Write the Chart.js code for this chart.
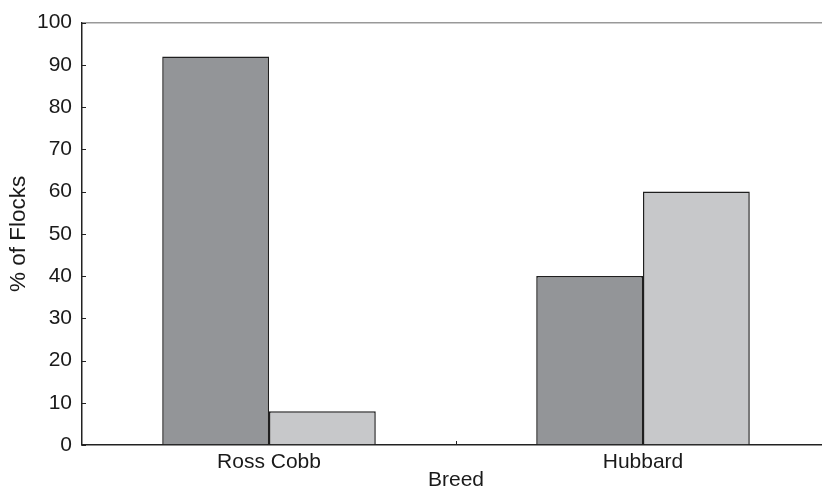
<!DOCTYPE html>
<html>
<head>
<meta charset="utf-8">
<script src="https://cdn.jsdelivr.net/npm/chart.js@4/dist/chart.umd.min.js"></script>
<style>
  html, body { margin: 0; padding: 0; background: #fff; overflow: hidden; }
  #wrap { width: 832px; height: 488px; position: relative; }
</style>
</head>
<body>
<div id="wrap"><canvas id="myChart"></canvas></div>
<script>
const breeds = ["Ross Cobb", "Hubbard"];
const seriesA = [92, 40];
const seriesB = [8, 60];
const yTicks = [0, 10, 20, 30, 40, 50, 60, 70, 80, 90, 100];

// small inward tick marks, like the original plot
const innerTicks = {
    id: 'innerTicks',
    afterDraw(chart) {
        const c = chart.ctx;
        const y = chart.scales.y;
        const x = chart.scales.x;
        const area = chart.chartArea;
        c.save();
        c.strokeStyle = '#222';
        c.lineWidth = 1;
        c.beginPath();
        yTicks.forEach(v => {
            const py = Math.round(y.getPixelForValue(v)) + 0.5;
            c.moveTo(area.left, py);
            c.lineTo(area.left + 4, py);
        });
        const mid = Math.round((x.getPixelForValue(0) + x.getPixelForValue(1)) / 2) + 0.5;
        c.moveTo(mid, area.bottom);
        c.lineTo(mid, area.bottom - 4);
        c.stroke();
        c.restore();
    }
};

const family = 'Liberation Sans, Arial, Helvetica, sans-serif';
const font = { family: family, size: 21 };
const textColor = '#1a1a1a';

new Chart(document.getElementById('myChart'), {
    type: 'bar',
    data: {
        labels: breeds,
        datasets: [
            {
                label: 'A',
                data: seriesA,
                backgroundColor: '#939598',
                borderColor: '#1f1f1f',
                borderWidth: 1.5,
                categoryPercentage: 0.571,
                barPercentage: 1
            },
            {
                label: 'B',
                data: seriesB,
                backgroundColor: '#c7c8ca',
                borderColor: '#1f1f1f',
                borderWidth: 1.5,
                categoryPercentage: 0.571,
                barPercentage: 1
            }
        ]
    },
    options: {
        responsive: true,
        maintainAspectRatio: false,
        animation: false,
        layout: { padding: { top: 19, right: 2, left: 0, bottom: 0 } },
        plugins: {
            legend: { display: false },
            tooltip: { enabled: false }
        },
        scales: {
            x: {
                grid: { display: false },
                border: { display: true, color: '#222', width: 1.5 },
                ticks: { color: textColor, font: font, padding: -3 },
                title: { display: true, text: 'Breed', color: textColor, font: font, padding: { top: 0, bottom: -5 } },
                afterFit(scale) { scale.height = 43; }
            },
            y: {
                min: 0,
                max: 100,
                afterBuildTicks(scale) { scale.ticks = yTicks.map(v => ({ value: v })); },
                grid: {
                    drawTicks: false,
                    color: ctx => ctx.tick && ctx.tick.value === 100 ? '#999' : 'rgba(0,0,0,0)',
                    lineWidth: 1.5
                },
                border: { display: true, color: '#222', width: 1.5 },
                ticks: { color: textColor, font: font, padding: 10 },
                title: { display: true, text: '% of Flocks', color: textColor, font: { family: family, size: 22.5 }, padding: { top: 5, bottom: 0 } },
                afterFit(scale) { scale.width = 82; }
            }
        }
    },
    plugins: [innerTicks]
});
</script>
</body>
</html>
